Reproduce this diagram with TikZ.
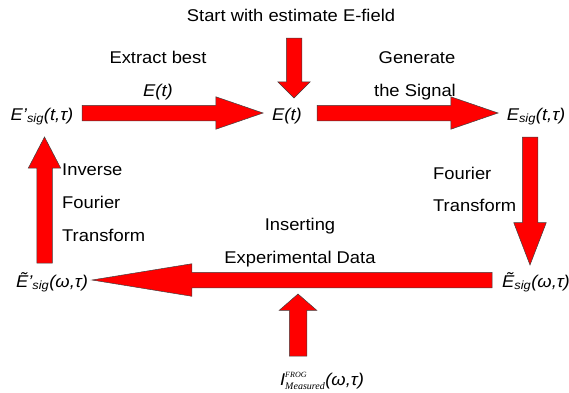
\documentclass[tikz,border=0pt]{standalone}
\usepackage{fontspec}
\setmainfont{Liberation Sans}[FakeStretch=1.08]
\newfontfamily\idxfont{Liberation Serif}
\usetikzlibrary{shapes.arrows}

\tikzset{
  blockarrow/.style={single arrow, draw=black!75, fill=red, line width=0.5pt,
    inner xsep=0pt, inner ysep=7.5pt, outer sep=0pt, minimum width=0pt,
    single arrow head extend=8.5pt, anchor=tail},
  lbl/.style={font=\fontsize{17}{17}\selectfont, inner sep=0pt, anchor=base},
  lblleft/.style={lbl, anchor=base west}
}

\begin{document}
\begin{tikzpicture}[x=1pt, y=-1pt]
  \useasboundingbox (0,0) rectangle (569,392);

  % field nodes
  \node[lbl] (Eprime) at (42,120) {\itshape E'\textsubscript{sig}(t,τ)};
  \node[lbl] (Et) at (287,120) {\itshape E(t)};
  \node[lbl] (Esig) at (536,120) {\itshape E\textsubscript{sig}(t,τ)};
  \node[lbl] (Ewsig) at (536,287) {\itshape Ẽ\textsubscript{sig}(ω,τ)};
  \node[lbl] (Ewprime) at (52,287) {\itshape Ẽ'\textsubscript{sig}(ω,τ)};
  \node[lbl] (Imeas) at (322,385) {$\mbox{\itshape I}^{\mbox{\idxfont\itshape\fontsize{8}{8}\selectfont FROG}}_{\mbox{\idxfont\itshape\fontsize{10}{10}\selectfont Measured}}$\itshape(ω,τ)};

  % step texts
  \node[lbl] (start) at (291,21) {Start with estimate E-field};
  \node[lbl] (extract) at (158,63) {Extract best};
  \node[lbl] (extractE) at (158,96) {\itshape E(t)};
  \node[lbl] (generate) at (417,63) {Generate};
  \node[lbl] (signal) at (415,96) {the Signal};
  \node[lblleft] (ft1) at (433,179) {Fourier};
  \node[lblleft] (ft2) at (433,211) {Transform};
  \node[lbl] (insert1) at (300,230) {Inserting};
  \node[lbl] (insert2) at (300,263) {Experimental Data};
  \node[lblleft] (ift1) at (62,175) {Inverse};
  \node[lblleft] (ift2) at (62,208) {Fourier};
  \node[lblleft] (ift3) at (62,241) {Transform};

  % block arrows
  \node[blockarrow, rotate=-90, minimum height=60pt, single arrow tip angle=90] (aStart) at (294,38) {};
  \node[blockarrow, minimum height=181pt, single arrow tip angle=38] (aExtract) at (82,113) {};
  \node[blockarrow, minimum height=181pt, single arrow tip angle=38] (aGenerate) at (317,113) {};
  \node[blockarrow, rotate=-90, minimum height=128pt, single arrow tip angle=42] (aFourier) at (530,137) {};
  \node[blockarrow, rotate=180, minimum height=400pt, single arrow tip angle=18.5] (aInsert) at (492,280) {};
  \node[blockarrow, rotate=90, minimum height=126pt, single arrow tip angle=55] (aInverse) at (44.5,263) {};
  \node[blockarrow, rotate=90, minimum height=62pt, inner ysep=8.5pt, single arrow head extend=10pt, single arrow tip angle=98] (aMeas) at (298,356) {};
\end{tikzpicture}
\end{document}
